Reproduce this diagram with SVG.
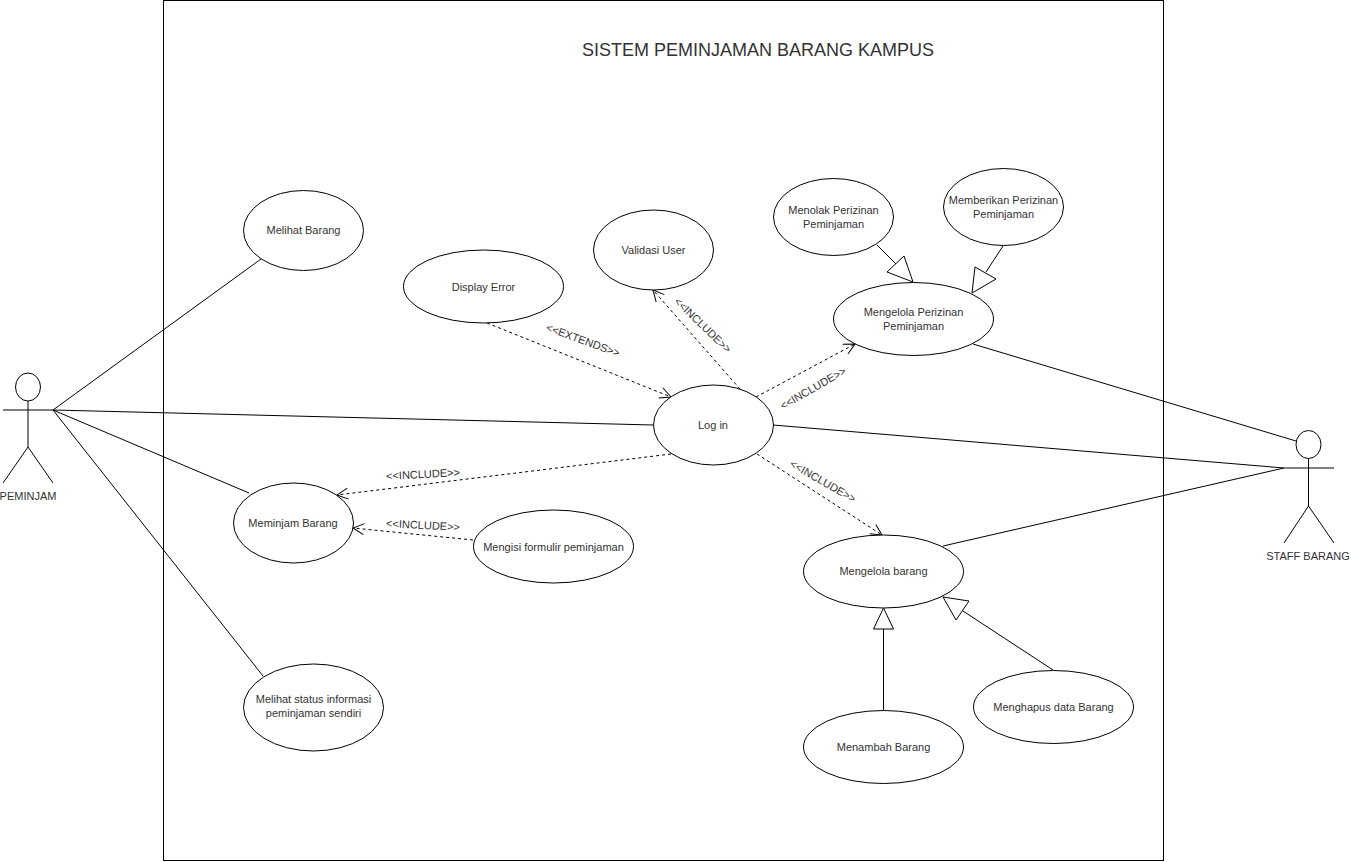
<svg xmlns="http://www.w3.org/2000/svg" width="1351" height="862" viewBox="0 0 1351 862">
<defs>
<marker id="open" markerUnits="userSpaceOnUse" markerWidth="16" markerHeight="16" refX="14" refY="8" orient="auto"><path d="M3 2.5L14 8L3 13.5" fill="none" stroke="#000" stroke-width="1"/></marker>
</defs>
<style>
text{font-family:"Liberation Sans",Arial,sans-serif;fill:#333;text-anchor:middle}
.n{font-size:11px}
.l{font-size:11px}
.t{font-size:18px}
ellipse,.s{fill:#fff;stroke:#000;stroke-width:1}
.c{fill:none;stroke:#000;stroke-width:1}
.d{fill:none;stroke:#000;stroke-width:1;stroke-dasharray:3 3;marker-end:url(#open)}
.g{fill:#fff;stroke:#000;stroke-width:1}
</style>
<rect width="1351" height="862" fill="#fff"/>
<g id="system"><rect x="163.5" y="0.5" width="1000" height="860" fill="none" stroke="#000"/><text class="t" x="758" y="56">SISTEM PEMINJAMAN BARANG KAMPUS</text></g>
<g id="connectors">
<path class="c" d="M53 410L261 259"/>
<path class="c" d="M53 410L653 425"/>
<path class="c" d="M53 410L249 493"/>
<path class="c" d="M53 410L263 676"/>
<path class="c" d="M973 344L1296 441"/>
<path class="c" d="M773 425L1284 468"/>
<path class="c" d="M943 546L1284 468"/>
<path class="d" d="M487 323L671 397"/>
<path class="d" d="M740 389L653 290"/>
<path class="d" d="M756 397L855 344"/>
<path class="d" d="M757 454L882 535"/>
<path class="d" d="M671 454L337 495"/>
<path class="d" d="M473 540L353 528"/>
<path class="c" d="M877 245L896 264"/>
<polygon class="g" points="913,282 904,256 887,272"/>
<path class="c" d="M1003 246L986 272"/>
<polygon class="g" points="972,293 975,267 996,279"/>
<path class="c" d="M883.500 710L883.500 629"/>
<polygon class="g" points="883.500,608 873.500,629 893.500,629"/>
<path class="c" d="M1053 670L963 611"/>
<polygon class="g" points="943,597 969,601 956,620"/>
<text class="l" x="703" y="329" transform="rotate(44 703 325)">&lt;&lt;INCLUDE&gt;&gt;</text>
<text class="l" x="813" y="392" transform="rotate(-30 813 388)">&lt;&lt;INCLUDE&gt;&gt;</text>
<text class="l" x="823" y="485" transform="rotate(30 823 481)">&lt;&lt;INCLUDE&gt;&gt;</text>
<text class="l" x="583" y="344" transform="rotate(20 583 340)">&lt;&lt;EXTENDS&gt;&gt;</text>
<text class="l" x="423" y="478" transform="rotate(-3 423 474)">&lt;&lt;INCLUDE&gt;&gt;</text>
<text class="l" x="423" y="529" transform="rotate(3 423 525)">&lt;&lt;INCLUDE&gt;&gt;</text>
</g>
<g id="actor-peminjam"><ellipse cx="28" cy="387" rx="12.500" ry="14"/><path class="c" d="M28 401V447M3 410H53M3 483L28 447L53 483"/><text class="n" x="28" y="500">PEMINJAM</text></g>
<g id="actor-staff"><ellipse cx="1308.500" cy="444.500" rx="12.500" ry="14"/><path class="c" d="M1308.500 458.500V506M1284 468H1334M1284 543L1308.500 506L1334 543"/><text class="n" x="1308" y="560">STAFF BARANG</text></g>
<g id="melihat-barang"><ellipse cx="303.500" cy="230.500" rx="60" ry="40"/><text class="n" x="303.500" y="234">Melihat Barang</text></g>
<g id="display-error"><ellipse cx="483.500" cy="286.500" rx="80" ry="36.500"/><text class="n" x="483.500" y="291">Display Error</text></g>
<g id="validasi-user"><ellipse cx="653.500" cy="250" rx="60" ry="40"/><text class="n" x="653.500" y="254">Validasi User</text></g>
<g id="menolak"><ellipse cx="833.500" cy="217" rx="60" ry="38.500"/><text class="n" x="833.500" y="214">Menolak Perizinan</text><text class="n" x="833.500" y="228">Peminjaman</text></g>
<g id="memberikan"><ellipse cx="1003.500" cy="207" rx="60" ry="38.500"/><text class="n" x="1003.500" y="204">Memberikan Perizinan</text><text class="n" x="1003.500" y="218">Peminjaman</text></g>
<g id="mengelola-perizinan"><ellipse cx="913.500" cy="319" rx="80" ry="36.500"/><text class="n" x="913.500" y="316">Mengelola Perizinan</text><text class="n" x="913.500" y="330">Peminjaman</text></g>
<g id="log-in"><ellipse cx="713.500" cy="425" rx="60" ry="40"/><text class="n" x="713" y="429">Log in</text></g>
<g id="mengelola-barang"><ellipse cx="883.500" cy="571.500" rx="80" ry="36.500"/><text class="n" x="883.500" y="575">Mengelola barang</text></g>
<g id="meminjam-barang"><ellipse cx="293.500" cy="523" rx="60" ry="40"/><text class="n" x="293" y="527">Meminjam Barang</text></g>
<g id="mengisi"><ellipse cx="553.500" cy="546.500" rx="80" ry="36.500"/><text class="n" x="553.500" y="551">Mengisi formulir peminjaman</text></g>
<g id="melihat-status"><ellipse cx="313.500" cy="707.500" rx="70" ry="43.500"/><text class="n" x="313.500" y="703">Melihat status informasi</text><text class="n" x="313.500" y="717">peminjaman sendiri</text></g>
<g id="menambah-barang"><ellipse cx="883.500" cy="747" rx="80" ry="36.500"/><text class="n" x="883.500" y="751">Menambah Barang</text></g>
<g id="menghapus"><ellipse cx="1053.500" cy="707" rx="80" ry="36.500"/><text class="n" x="1053.500" y="711">Menghapus data Barang</text></g>
</svg>
